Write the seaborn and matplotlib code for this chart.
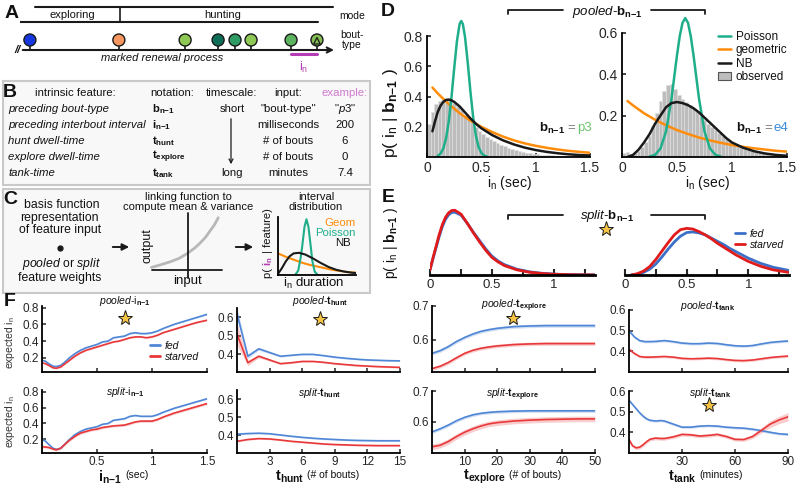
import numpy as np
import pandas as pd
import matplotlib
matplotlib.use("Agg")
import matplotlib.pyplot as plt
import seaborn as sns
from matplotlib.lines import Line2D
from matplotlib.patches import Patch, Rectangle

# ====================== DATA ======================
# Panel A: schematic bout timeline (arbitrary time units)
bout_times = [0.31, 3.09, 5.16, 6.19, 6.72, 7.22, 8.47, 9.28]
bout_colors = ["#1636e0", "#f7965f", "#8ec955", "#0d6e58", "#2f9b65", "#8ec955", "#5db460", "#84bd54"]
mode_names = ["exploring", "hunting"]
mode_switch = 3.125

# Panel B table
b_headers = ["intrinsic feature:", "notation:", "timescale:", "input:", "example:"]
b_features = ["preceding bout-type", "preceding interbout interval", "hunt dwell-time",
              "explore dwell-time", "tank-time"]
b_notation = [r"$\mathbf{b}_{\mathbf{n{-}1}}$", r"$\mathbf{i}_{\mathbf{n{-}1}}$",
              r"$\mathbf{t}_{\mathbf{hunt}}$", r"$\mathbf{t}_{\mathbf{explore}}$",
              r"$\mathbf{t}_{\mathbf{tank}}$"]
b_inputs = ['"bout-type"', "milliseconds", "# of bouts", "# of bouts", "minutes"]
b_examples = [r'"$\mathit{p3}$"', "200", "6", "0", "7.4"]

# Panel C schematic curves
link_x = [0.02, 0.15, 0.27, 0.39, 0.507, 0.6, 0.67, 0.74, 0.8, 0.86, 0.91]
link_y = [0.18, 0.22, 0.26, 0.31, 0.386, 0.46, 0.53, 0.61, 0.70, 0.79, 0.89]
c_pois_x = [0.22, 0.26, 0.29, 0.31, 0.34, 0.365, 0.39, 0.42, 0.44, 0.47, 0.51]
c_pois_y = [0.0, 0.08, 0.3, 0.5, 0.85, 0.98, 0.85, 0.5, 0.25, 0.06, 0.0]
c_geo_x = [0.0, 0.1, 0.2, 0.3, 0.4, 0.5, 0.6, 0.7, 0.8, 0.9, 1.0]
c_geo_y = [0.38, 0.32, 0.27, 0.22, 0.18, 0.15, 0.12, 0.09, 0.07, 0.05, 0.04]
c_nb_x = [0.0, 0.05, 0.1, 0.15, 0.2, 0.27, 0.35, 0.45, 0.55, 0.65, 0.75, 0.85, 0.95, 1.0]
c_nb_y = [0.02, 0.12, 0.24, 0.33, 0.38, 0.39, 0.36, 0.29, 0.21, 0.14, 0.09, 0.06, 0.04, 0.035]

# Panel D: observed histograms (45 bins over 0-1.5 s) and model fits
hist_centers = [(k + 0.5) / 30 for k in range(45)]
p3_obs = [0.22, 0.30, 0.35, 0.37, 0.375, 0.375, 0.37, 0.36, 0.34, 0.31, 0.28, 0.255, 0.23, 0.20, 0.175,
          0.155, 0.135, 0.12, 0.105, 0.092, 0.08, 0.07, 0.06, 0.052, 0.045, 0.038, 0.033, 0.028, 0.024,
          0.02, 0.017, 0.015, 0.013, 0.011, 0.01, 0.009, 0.008, 0.007, 0.006, 0.005, 0.005, 0.004,
          0.004, 0.003, 0.003]
e4_obs = [0.02, 0.025, 0.015, 0.02, 0.03, 0.05, 0.07, 0.10, 0.15, 0.21, 0.27, 0.32, 0.345, 0.35, 0.33,
          0.30, 0.28, 0.265, 0.25, 0.235, 0.22, 0.20, 0.18, 0.16, 0.145, 0.13, 0.115, 0.10, 0.085,
          0.075, 0.065, 0.055, 0.048, 0.042, 0.036, 0.031, 0.027, 0.023, 0.02, 0.017, 0.015, 0.013,
          0.011, 0.01, 0.009]
p3_pois_x = [0.10, 0.125, 0.15, 0.175, 0.2, 0.225, 0.25, 0.275, 0.3, 0.315, 0.33, 0.35, 0.375, 0.4,
             0.425, 0.45, 0.475, 0.5, 0.525, 0.55]
p3_pois = [0.008, 0.023, 0.056, 0.122, 0.233, 0.394, 0.585, 0.764, 0.88, 0.9, 0.88, 0.794, 0.624, 0.43,
           0.262, 0.14, 0.066, 0.027, 0.01, 0.003]
p3_geo_x = [0.05, 0.1, 0.2, 0.3, 0.4, 0.5, 0.6, 0.7, 0.8, 0.9, 1.0, 1.1, 1.2, 1.3, 1.4, 1.5]
p3_geo = [0.46, 0.42, 0.35, 0.29, 0.24, 0.20, 0.165, 0.135, 0.11, 0.09, 0.074, 0.061, 0.05, 0.041,
          0.034, 0.028]
p3_nb_x = [0.05, 0.075, 0.1, 0.125, 0.15, 0.175, 0.2, 0.225, 0.25, 0.3, 0.35, 0.4, 0.45, 0.5, 0.6, 0.7,
           0.8, 0.9, 1.0, 1.1, 1.2, 1.3, 1.4, 1.5]
p3_nb = [0.17, 0.24, 0.30, 0.34, 0.365, 0.378, 0.38, 0.375, 0.365, 0.335, 0.295, 0.255, 0.22, 0.19,
         0.145, 0.11, 0.083, 0.062, 0.046, 0.034, 0.025, 0.018, 0.013, 0.01]
e4_pois_x = [0.25, 0.3, 0.35, 0.4, 0.45, 0.5, 0.525, 0.55, 0.575, 0.6, 0.625, 0.65, 0.7, 0.75, 0.8,
             0.85, 0.9]
e4_pois = [0.002, 0.01, 0.041, 0.123, 0.282, 0.491, 0.583, 0.647, 0.67, 0.647, 0.583, 0.491, 0.282,
           0.123, 0.041, 0.01, 0.002]
e4_geo_x = [0.05, 0.1, 0.2, 0.3, 0.4, 0.5, 0.6, 0.7, 0.8, 0.9, 1.0, 1.1, 1.2, 1.3, 1.4, 1.5]
e4_geo = [0.27, 0.249, 0.211, 0.18, 0.153, 0.13, 0.111, 0.094, 0.08, 0.068, 0.058, 0.049, 0.042,
          0.036, 0.03, 0.026]
e4_nb_x = [0.05, 0.1, 0.15, 0.2, 0.25, 0.3, 0.35, 0.4, 0.45, 0.5, 0.55, 0.6, 0.65, 0.7, 0.75, 0.8,
           0.85, 0.9, 0.95, 1.0, 1.1, 1.2, 1.3, 1.4, 1.5]
e4_nb = [0.0, 0.01, 0.035, 0.07, 0.11, 0.16, 0.20, 0.24, 0.26, 0.265, 0.26, 0.25, 0.235, 0.215, 0.19,
         0.165, 0.14, 0.115, 0.09, 0.07, 0.045, 0.028, 0.017, 0.01, 0.006]

# Panel E: split fits (relative density)
e_p3_x = [0, 0.025, 0.05, 0.075, 0.1, 0.125, 0.15, 0.175, 0.2, 0.25, 0.3, 0.35, 0.4, 0.45, 0.5, 0.55,
          0.6, 0.7, 0.8, 0.9, 1.0, 1.1, 1.2, 1.33]
e_p3_fed = [0.08, 0.26, 0.43, 0.60, 0.75, 0.86, 0.93, 0.965, 0.97, 0.925, 0.80, 0.66, 0.53, 0.40,
            0.29, 0.215, 0.16, 0.09, 0.05, 0.027, 0.014, 0.007, 0.004, 0.002]
e_p3_starved = [0.08, 0.27, 0.45, 0.63, 0.78, 0.89, 0.96, 0.995, 1.0, 0.94, 0.80, 0.65, 0.51, 0.38,
                0.27, 0.20, 0.145, 0.08, 0.043, 0.023, 0.012, 0.006, 0.003, 0.001]
e_e4_x = [0.05, 0.1, 0.15, 0.2, 0.25, 0.3, 0.35, 0.4, 0.45, 0.5, 0.55, 0.6, 0.65, 0.7, 0.75, 0.8, 0.85,
          0.9, 0.95, 1.0, 1.1, 1.2, 1.33]
e_e4_fed = [0.0, 0.012, 0.04, 0.09, 0.17, 0.28, 0.40, 0.51, 0.60, 0.655, 0.665, 0.65, 0.62, 0.57, 0.52,
            0.47, 0.41, 0.36, 0.31, 0.26, 0.18, 0.12, 0.07]
e_e4_starved = [0.0, 0.02, 0.06, 0.13, 0.24, 0.37, 0.50, 0.62, 0.70, 0.72, 0.71, 0.67, 0.62, 0.56, 0.49,
                0.43, 0.37, 0.31, 0.26, 0.21, 0.135, 0.08, 0.04]

# Panel F: expected interval vs feature value
i_x = [0.0, 0.03, 0.06, 0.1, 0.13, 0.17, 0.2, 0.25, 0.3, 0.35, 0.4, 0.45, 0.5, 0.55, 0.6, 0.65, 0.7,
       0.75, 0.8, 0.85, 0.9, 0.95, 1.0, 1.05, 1.1, 1.2, 1.3, 1.4, 1.5]
i_pooled_fed = [0.17, 0.16, 0.13, 0.10, 0.095, 0.11, 0.14, 0.20, 0.25, 0.29, 0.32, 0.34, 0.36, 0.39,
                0.40, 0.44, 0.45, 0.46, 0.49, 0.50, 0.49, 0.49, 0.50, 0.52, 0.55, 0.60, 0.64, 0.68, 0.72]
i_pooled_starved = [0.14, 0.13, 0.11, 0.08, 0.075, 0.09, 0.12, 0.17, 0.22, 0.26, 0.29, 0.31, 0.33,
                    0.35, 0.37, 0.39, 0.40, 0.42, 0.44, 0.45, 0.45, 0.44, 0.45, 0.47, 0.50, 0.54, 0.58,
                    0.62, 0.65]
i_split_fed = [0.20, 0.18, 0.14, 0.09, 0.075, 0.09, 0.13, 0.20, 0.26, 0.30, 0.33, 0.345, 0.36, 0.39,
               0.40, 0.44, 0.45, 0.46, 0.49, 0.50, 0.49, 0.49, 0.49, 0.51, 0.54, 0.59, 0.63, 0.67, 0.71]
i_split_starved = [0.11, 0.105, 0.10, 0.08, 0.07, 0.09, 0.13, 0.19, 0.24, 0.28, 0.30, 0.32, 0.33, 0.35,
                   0.36, 0.37, 0.375, 0.38, 0.40, 0.42, 0.43, 0.43, 0.43, 0.45, 0.48, 0.53, 0.57, 0.61,
                   0.65]

hunt_x = [0, 1, 2, 3, 4, 5, 6, 7, 8, 9, 10, 11, 12, 13, 14, 15]
hunt_pooled_fed = [0.62, 0.39, 0.43, 0.41, 0.39, 0.395, 0.40, 0.40, 0.393, 0.385, 0.379, 0.374, 0.37,
                   0.368, 0.366, 0.365]
hunt_pooled_fed_hw = [0.035, 0.012, 0.008, 0.006, 0.005, 0.004, 0.004, 0.004, 0.004, 0.004, 0.004,
                      0.004, 0.004, 0.004, 0.004, 0.004]
hunt_pooled_starved = [0.51, 0.355, 0.39, 0.37, 0.35, 0.355, 0.362, 0.362, 0.357, 0.35, 0.345, 0.34,
                       0.337, 0.334, 0.332, 0.33]
hunt_pooled_starved_hw = [0.06, 0.015, 0.008, 0.006, 0.005, 0.004, 0.004, 0.004, 0.004, 0.004, 0.004,
                          0.004, 0.004, 0.004, 0.004, 0.004]
hunt_split_fed = [0.405, 0.408, 0.41, 0.407, 0.40, 0.393, 0.387, 0.382, 0.378, 0.375, 0.372, 0.37,
                  0.369, 0.368, 0.368, 0.368]
hunt_split_starved = [0.365, 0.375, 0.38, 0.378, 0.372, 0.365, 0.36, 0.355, 0.35, 0.347, 0.345, 0.343,
                      0.342, 0.341, 0.341, 0.341]

explore_x = [0, 2.5, 5, 7.5, 10, 12.5, 15, 17.5, 20, 25, 30, 35, 40, 45, 50]
explore_pooled_fed = [0.56, 0.568, 0.58, 0.595, 0.607, 0.617, 0.625, 0.63, 0.634, 0.639, 0.641, 0.642,
                      0.642, 0.642, 0.642]
explore_pooled_starved = [0.515, 0.522, 0.533, 0.547, 0.56, 0.569, 0.575, 0.579, 0.582, 0.586, 0.588,
                          0.589, 0.589, 0.589, 0.589]
explore_split_fed = [0.568, 0.578, 0.59, 0.604, 0.615, 0.623, 0.628, 0.631, 0.633, 0.635, 0.636, 0.636,
                     0.636, 0.636, 0.636]
explore_split_starved = [0.52, 0.525, 0.537, 0.553, 0.567, 0.578, 0.587, 0.594, 0.598, 0.603, 0.606,
                         0.608, 0.609, 0.61, 0.61]

tank_x = [0, 3, 6, 9, 12, 15, 20, 25, 30, 35, 40, 45, 50, 55, 60, 65, 70, 75, 80, 85, 90]
tank_pooled_fed = [0.50, 0.47, 0.452, 0.447, 0.447, 0.448, 0.452, 0.447, 0.44, 0.437, 0.437, 0.44,
                   0.438, 0.432, 0.427, 0.425, 0.428, 0.436, 0.443, 0.447, 0.45]
tank_pooled_starved = [0.41, 0.39, 0.375, 0.372, 0.372, 0.373, 0.375, 0.372, 0.366, 0.364, 0.365,
                       0.367, 0.365, 0.36, 0.356, 0.355, 0.358, 0.364, 0.37, 0.374, 0.377]
tank_split_x = [0, 2, 4, 6, 8, 10, 12, 15, 18, 20, 25, 30, 35, 40, 45, 50, 55, 60, 65, 70, 75, 80, 85, 90]
tank_split_fed = [0.555, 0.535, 0.515, 0.495, 0.478, 0.465, 0.458, 0.455, 0.457, 0.455, 0.44, 0.425,
                  0.425, 0.43, 0.432, 0.43, 0.425, 0.422, 0.42, 0.415, 0.408, 0.40, 0.393, 0.39]
tank_split_starved = [0.365, 0.335, 0.325, 0.328, 0.34, 0.355, 0.367, 0.372, 0.37, 0.37, 0.378, 0.39,
                      0.388, 0.382, 0.385, 0.39, 0.38, 0.366, 0.365, 0.38, 0.41, 0.44, 0.46, 0.475]
tank_split_starved_hw = [0.008] * 19 + [0.01, 0.013, 0.016, 0.018, 0.02]

# ====================== STYLE ======================
sns.set_theme(style="ticks")
plt.rcParams["font.family"] = ["Liberation Sans", "DejaVu Sans"]
plt.rcParams["mathtext.fontset"] = "custom"
plt.rcParams["mathtext.rm"] = "Liberation Sans"
plt.rcParams["mathtext.it"] = "Liberation Sans:italic"
plt.rcParams["mathtext.bf"] = "Liberation Sans:bold"
plt.rcParams["mathtext.sf"] = "Liberation Sans"
plt.rcParams["axes.linewidth"] = 1.3
plt.rcParams["axes.edgecolor"] = "black"
plt.rcParams["text.color"] = "#111111"

POIS = "#1fae8a"
GEO = "#ff8c0a"
FED = "#4f86d6"
STARV = "#e8383a"
FED_E = "#3b70c8"
STARV_E = "#e01b1b"
MAG = "#b43cb4"
GOLD = "#f6c445"

W, H = 800, 491
fig = plt.figure(figsize=(8, 4.91), dpi=100)


def rect(l, t, r, b):
    return [l / W, 1 - b / H, (r - l) / W, (b - t) / H]


ov = fig.add_axes([0, 0, 1, 1], zorder=-1)
ov.set_xlim(0, W)
ov.set_ylim(H, 0)
ov.axis("off")


def T(x, y, s, **kw):
    kw.setdefault("ha", "center")
    kw.setdefault("va", "center")
    return ov.text(x, y, s, **kw)


def star(x, y):
    ov.plot([x], [y], marker="*", ms=11, mfc=GOLD, mec="k", mew=0.7, ls="none")


# ====================== PANEL A ======================
T(12, 13, "A", fontsize=14, fontweight="bold")
axA = fig.add_axes(rect(20, 0, 340, 80))
axA.set_xlim(0, 10)
axA.set_ylim(80, 0)
axA.axis("off")
axA.plot([0.47, 9.78], [7, 7], color="k", lw=1.5)
axA.plot([0, 9.31], [22, 22], color="k", lw=1.5)
axA.plot([mode_switch, mode_switch], [7, 22], color="k", lw=1.2)
axA.text(1.63, 15, mode_names[0], ha="center", va="center", fontsize=8)
axA.text(6.34, 15, mode_names[1], ha="center", va="center", fontsize=8)
axA.annotate("", xy=(9.9, 50), xytext=(0.0, 50),
             arrowprops=dict(arrowstyle="->", lw=1.5, color="k", mutation_scale=9))
axA.vlines(bout_times, 45, 50, color="k", lw=1.2)
axA.scatter(bout_times, [40] * len(bout_times), s=75, c=bout_colors, edgecolors="k",
            linewidths=1.0, zorder=3)
axA.scatter([bout_times[-1]], [40.8], marker="^", s=22, facecolors="none", edgecolors="k",
            linewidths=0.9, zorder=4)
axA.plot([bout_times[-2], bout_times[-1]], [53.5, 53.5], color=MAG, lw=2.2)
axA.text((bout_times[-2] + bout_times[-1]) / 2, 67, r"i$_\mathrm{n}$", color=MAG, ha="center",
         va="center", fontsize=9)
T(18, 50, "//", fontsize=8, fontweight="bold", style="italic")
T(162, 58, "marked renewal process", fontsize=8, style="italic")
T(352, 16, "mode", fontsize=7.5)
T(352, 35, "bout-", fontsize=7.5)
T(352, 45, "type", fontsize=7.5)

# ====================== PANEL B ======================
ov.add_patch(Rectangle((3, 81), 367, 104, facecolor="#f8f8f8", edgecolor="#c9c9c9", lw=1.5))
T(10, 92, "B", fontsize=14, fontweight="bold")
fsB = 8.2
T(35, 93, b_headers[0], ha="left", fontsize=fsB)
T(172, 93, b_headers[1], fontsize=fsB)
T(232, 93, b_headers[2], fontsize=fsB)
T(288, 93, b_headers[3], fontsize=fsB)
T(345, 93, b_headers[4], fontsize=fsB, color="#d27ad2")
rows_y = [109, 125, 141, 157, 173]
for k, y in enumerate(rows_y):
    T(8, y, b_features[k], ha="left", fontsize=fsB, style="italic")
    T(152, y, b_notation[k], ha="left", fontsize=fsB)
    T(288, y, b_inputs[k], fontsize=fsB)
    T(345, y, b_examples[k], fontsize=fsB)
T(232, rows_y[0], "short", fontsize=fsB)
T(232, rows_y[-1], "long", fontsize=fsB)
ov.annotate("", xy=(231, 167), xytext=(231, 116),
            arrowprops=dict(arrowstyle="->", lw=0.9, color="k", mutation_scale=7))

# ====================== PANEL C ======================
ov.add_patch(Rectangle((3, 189), 367, 104, facecolor="#f8f8f8", edgecolor="#c9c9c9", lw=1.5))
T(10, 200, "C", fontsize=14, fontweight="bold")
fsC = 8
fsCL = 8.8
T(62, 205, "basis function", fontsize=fsCL)
T(59, 218, "representation", fontsize=fsCL)
T(60, 230, "of feature input", fontsize=fsCL)
ov.plot([60], [248], marker="o", ms=3.5, color="k")
T(62, 264, r"$\mathit{pooled}$ or $\mathit{split}$", fontsize=fsCL)
T(60, 277.5, "feature weights", fontsize=fsCL)
ov.annotate("", xy=(132, 247), xytext=(110, 247),
            arrowprops=dict(arrowstyle="-|>", lw=1.4, color="k", mutation_scale=10))
ov.annotate("", xy=(256, 247), xytext=(233, 247),
            arrowprops=dict(arrowstyle="-|>", lw=1.4, color="k", mutation_scale=10))
T(188, 197, "linking function to", fontsize=fsC)
T(188, 207, "compute mean & variance", fontsize=fsC)
T(316, 197, "interval", fontsize=fsC)
T(316, 207, "distribution", fontsize=fsC)
T(147, 246, "output", fontsize=9, rotation=90)
T(187, 281, "input", fontsize=9.5)

axL = fig.add_axes(rect(150, 210, 225, 280))
axL.patch.set_alpha(0)
sns.lineplot(x=link_x, y=link_y, ax=axL, color="#b8b8b8", lw=2)
axL.set_xlim(0, 1)
axL.set_ylim(0, 1)
axL.axis("off")
axL.axhline(0.143, 0.027, 0.96, color="k", lw=1.3)
axL.axvline(0.507, 0.03, 0.96, color="k", lw=1.3)

axC = fig.add_axes(rect(278, 217, 356, 275))
axC.patch.set_alpha(0)
sns.lineplot(x=c_geo_x, y=c_geo_y, ax=axC, color=GEO, lw=1.5)
sns.lineplot(x=c_pois_x, y=c_pois_y, ax=axC, color=POIS, lw=1.5)
sns.lineplot(x=c_nb_x, y=c_nb_y, ax=axC, color="k", lw=1.5)
axC.set_xlim(0, 1)
axC.set_ylim(0, 1.02)
axC.set_xticks([])
axC.set_yticks([])
for s in ["top", "right"]:
    axC.spines[s].set_visible(False)
T(356, 222.5, "Geom", ha="right", fontsize=8.2, color=GEO)
T(356, 232.5, "Poisson", ha="right", fontsize=8.2, color=POIS)
T(351, 242.5, "NB", ha="right", fontsize=8.2, color="#111111")
ov.text(268, 278, "p( ", rotation=90, ha="center", va="bottom", fontsize=fsC)
ov.text(268, 266, r"$\mathbf{i}_\mathbf{n}$", rotation=90, ha="center", va="bottom", fontsize=fsC,
        color=MAG)
ov.text(268, 256, " | feature)", rotation=90, ha="center", va="bottom", fontsize=fsC)
T(314, 283, r"i$_\mathrm{n}$ duration", fontsize=9.5)

# ====================== PANEL D ======================
T(388, 11, "D", fontsize=14, fontweight="bold")
T(391, 113, r"p( i$_\mathrm{n}$ | $\mathbf{b}_{\mathbf{n{-}1}}$ )", fontsize=12.5, rotation=90)
ov.plot([508, 508, 563], [14, 9.5, 9.5], color="k", lw=1.3)
ov.plot([651, 705, 705], [9.5, 9.5, 14], color="k", lw=1.3)
T(607, 12, r"$\mathit{pooled}$-$\mathbf{b}_{\mathbf{n{-}1}}$", fontsize=9.5)


def style_D(ax, ymax, yt):
    ax.set_xlim(0, 1.5)
    ax.set_ylim(0, ymax)
    ax.set_xticks([0, 0.5, 1, 1.5])
    ax.set_xticklabels(["0", "0.5", "1", "1.5"])
    ax.set_yticks(yt)
    ax.set_yticklabels([f"{v:g}" for v in yt])
    ax.spines["top"].set_visible(False)
    ax.spines["right"].set_visible(False)
    ax.spines["left"].set_bounds(0, yt[-1])
    ax.tick_params(direction="in", length=3, width=1.2, labelsize=10, pad=3)
    ax.set_xlabel("")
    ax.set_ylabel("")
    ax.patch.set_alpha(0)


def obs_hist(ax, heights):
    df = pd.DataFrame({"t": hist_centers, "h": heights})
    sns.histplot(data=df, x="t", weights="h", bins=45, binrange=(0, 1.5), ax=ax, color="#bdbdbd",
                 edgecolor="#e2e2e2", linewidth=0.4, alpha=1)


axDL = fig.add_axes(rect(427, 18, 590, 157))
obs_hist(axDL, p3_obs)
sns.lineplot(x=p3_geo_x, y=p3_geo, ax=axDL, color=GEO, lw=1.8)
sns.lineplot(x=p3_pois_x, y=p3_pois, ax=axDL, color=POIS, lw=1.8)
sns.lineplot(x=p3_nb_x, y=p3_nb, ax=axDL, color="k", lw=1.8)
style_D(axDL, 0.92, [0.2, 0.4, 0.6, 0.8])

axDR = fig.add_axes(rect(622, 16, 787, 157))
obs_hist(axDR, e4_obs)
sns.lineplot(x=e4_geo_x, y=e4_geo, ax=axDR, color=GEO, lw=1.8)
sns.lineplot(x=e4_pois_x, y=e4_pois, ax=axDR, color=POIS, lw=1.8)
sns.lineplot(x=e4_nb_x, y=e4_nb, ax=axDR, color="k", lw=1.8)
style_D(axDR, 0.68, [0.2, 0.4, 0.6])

T(509, 183, r"i$_\mathrm{n}$ (sec)", fontsize=10)
T(707, 183, r"i$_\mathrm{n}$ (sec)", fontsize=10)

T(565, 128, r"$\mathbf{b}_{\mathbf{n{-}1}}$", ha="right", fontsize=9.5)
T(571, 128, "=", fontsize=9.5, color="#777777")
T(577, 128, "p3", ha="left", fontsize=9.5, color="#6cc46c")
T(762, 128, r"$\mathbf{b}_{\mathbf{n{-}1}}$", ha="right", fontsize=9.5)
T(768, 128, "=", fontsize=9.5, color="#777777")
T(773, 128, "e4", ha="left", fontsize=9.5, color="#3a8ad8")

handles = [Line2D([], [], color=POIS, lw=1.8), Line2D([], [], color=GEO, lw=1.8),
           Line2D([], [], color="k", lw=1.8),
           Patch(facecolor="#bdbdbd", edgecolor="#555555", lw=0.8)]
axDR.legend(handles, ["Poisson", "geometric", "NB", "observed"], loc="upper left",
            bbox_to_anchor=(718 / W, 1 - 31 / H), bbox_transform=fig.transFigure, frameon=False,
            fontsize=8.5, handlelength=1.1, handleheight=0.6, handletextpad=0.4, labelspacing=0.12,
            borderpad=0, borderaxespad=0)

# ====================== PANEL E ======================
T(388, 197, "E", fontsize=14, fontweight="bold")
T(391, 243, r"p( i$_\mathrm{n}$ | $\mathbf{b}_{\mathbf{n{-}1}}$ )", fontsize=10, rotation=90)
ov.plot([508, 508, 563], [219, 214.5, 214.5], color="k", lw=1.3)
ov.plot([651, 705, 705], [214.5, 214.5, 219], color="k", lw=1.3)
T(607, 216, r"$\mathit{split}$-$\mathbf{b}_{\mathbf{n{-}1}}$", fontsize=9.5)
star(606, 229)


def style_E(ax):
    ax.set_xlim(0, 1.33)
    ax.set_ylim(0, 1.05)
    ax.set_xticks([0, 0.5, 1])
    ax.set_xticklabels(["0", "0.5", "1"])
    ax.set_xticks([0.25, 0.75, 1.25], minor=True)
    ax.set_yticks([])
    for s in ["top", "right", "left"]:
        ax.spines[s].set_visible(False)
    ax.spines["bottom"].set_linewidth(2)
    ax.tick_params(axis="x", which="both", direction="in", length=4, width=1.5, labelsize=9.5, pad=3)
    ax.set_xlabel("")
    ax.set_ylabel("")
    ax.patch.set_alpha(0)


axEL = fig.add_axes(rect(430, 207, 595, 275))
sns.lineplot(x=e_p3_x, y=e_p3_fed, ax=axEL, color=FED_E, lw=2)
sns.lineplot(x=e_p3_x, y=e_p3_starved, ax=axEL, color=STARV_E, lw=2)
style_E(axEL)
axER = fig.add_axes(rect(625, 207, 789, 275))
sns.lineplot(x=e_e4_x, y=e_e4_fed, ax=axER, color=FED_E, lw=2)
sns.lineplot(x=e_e4_x, y=e_e4_starved, ax=axER, color=STARV_E, lw=2)
style_E(axER)
axER.legend([Line2D([], [], color=FED_E, lw=2), Line2D([], [], color=STARV_E, lw=2)],
            ["fed", "starved"], loc="upper left", bbox_to_anchor=(735 / W, 1 - 229 / H),
            bbox_transform=fig.transFigure, frameon=False, prop={"style": "italic", "size": 7.5},
            handlelength=1.0, handletextpad=0.4, labelspacing=0.1, borderpad=0, borderaxespad=0)

# ====================== PANEL F ======================
T(10, 302, "F", fontsize=14, fontweight="bold")


def band_frame(x, y, hw):
    x = np.asarray(x, float)
    y = np.asarray(y, float)
    hw = np.broadcast_to(np.asarray(hw, float), y.shape)
    return pd.DataFrame({"x": np.concatenate([x, x, x]),
                         "v": np.concatenate([y - hw, y, y + hw])})


def band_line(ax, x, y, hw, color):
    sns.lineplot(data=band_frame(x, y, hw), x="x", y="v", estimator="median",
                 errorbar=("pi", 100), color=color, lw=1.2, ax=ax,
                 err_kws=dict(alpha=0.25, linewidth=0))


def style_F(ax, xlim, xt, xtl, ylim, yt, show_x):
    ax.set_xlim(*xlim)
    ax.set_ylim(*ylim)
    ax.set_xticks(xt)
    ax.set_xticklabels(xtl if show_x else [])
    ax.set_yticks(yt)
    ax.set_yticklabels([f"{v:g}" for v in yt])
    ax.spines["top"].set_visible(False)
    ax.spines["right"].set_visible(False)
    ax.tick_params(direction="in", length=3, width=1.1, labelsize=8.5, pad=2.5)
    ax.set_xlabel("")
    ax.set_ylabel("")
    ax.patch.set_alpha(0)


cols = [(42, 207), (237, 400), (432, 595), (629, 788)]
rows = [(306, 372), (390, 453)]
col_tops = [[306, 390], [308, 390], [306, 391], [310, 391]]

# column 1: i_{n-1}
for r, (fed, starv, shw) in enumerate([(i_pooled_fed, i_pooled_starved, 0.008),
                                       (i_split_fed, i_split_starved, 0.014)]):
    ax = fig.add_axes(rect(cols[0][0], col_tops[0][r], cols[0][1], rows[r][1]))
    band_line(ax, i_x, fed, 0.008, FED)
    band_line(ax, i_x, starv, shw, STARV)
    style_F(ax, (0, 1.5), [0.5, 1, 1.5], ["0.5", "1", "1.5"], (0.03, 0.82),
            [0.2, 0.4, 0.6, 0.8], r == 1)
    if r == 0:
        ax.legend([Line2D([], [], color=FED, lw=2), Line2D([], [], color=STARV, lw=2)],
                  ["fed", "starved"], loc="upper left", bbox_to_anchor=(150 / W, 1 - 341 / H),
                  bbox_transform=fig.transFigure, frameon=False,
                  prop={"style": "italic", "size": 7.5}, handlelength=1.0, handletextpad=0.4,
                  labelspacing=0.1, borderpad=0, borderaxespad=0)

# column 2: t_hunt
for r, (fed, fhw, starv, shw, yl) in enumerate([
        (hunt_pooled_fed, hunt_pooled_fed_hw, hunt_pooled_starved, hunt_pooled_starved_hw,
         (0.305, 0.65)),
        (hunt_split_fed, 0.004, hunt_split_starved, 0.004, (0.30, 0.65))]):
    ax = fig.add_axes(rect(cols[1][0], col_tops[1][r], cols[1][1], rows[r][1]))
    band_line(ax, hunt_x, fed, fhw, FED)
    band_line(ax, hunt_x, starv, shw, STARV)
    style_F(ax, (0, 15), [3, 6, 9, 12, 15], ["3", "6", "9", "12", "15"], yl, [0.4, 0.5, 0.6],
            r == 1)

# column 3: t_explore
for r, (fed, starv, shw, yl) in enumerate([
        (explore_pooled_fed, explore_pooled_starved, 0.005, (0.505, 0.70)),
        (explore_split_fed, explore_split_starved, 0.009, (0.50, 0.70))]):
    ax = fig.add_axes(rect(cols[2][0], col_tops[2][r], cols[2][1], rows[r][1]))
    band_line(ax, explore_x, fed, 0.005, FED)
    band_line(ax, explore_x, starv, shw, STARV)
    style_F(ax, (0, 50), [10, 20, 30, 40, 50], ["10", "20", "30", "40", "50"], yl, [0.6, 0.7],
            r == 1)

# column 4: t_tank
ax = fig.add_axes(rect(cols[3][0], col_tops[3][0], cols[3][1], rows[0][1]))
band_line(ax, tank_x, tank_pooled_fed, 0.006, FED)
band_line(ax, tank_x, tank_pooled_starved, 0.006, STARV)
style_F(ax, (0, 90), [30, 60, 90], ["30", "60", "90"], (0.30, 0.60), [0.4, 0.5, 0.6], False)
ax = fig.add_axes(rect(cols[3][0], col_tops[3][1], cols[3][1], rows[1][1]))
band_line(ax, tank_split_x, tank_split_fed, 0.006, FED)
band_line(ax, tank_split_x, tank_split_starved, tank_split_starved_hw, STARV)
style_F(ax, (0, 90), [30, 60, 90], ["30", "60", "90"], (0.30, 0.60), [0.4, 0.5, 0.6], True)

# F titles, stars, labels
fsT = 7.5
T(125, 301, r"$\mathit{pooled}$-i$_{\mathbf{n{-}1}}$", fontsize=fsT)
T(320, 301, r"$\mathit{pooled}$-$\mathbf{t}_{\mathbf{hunt}}$", fontsize=fsT)
T(514, 306, r"$\mathit{pooled}$-$\mathbf{t}_{\mathbf{explore}}$", fontsize=fsT)
T(708, 306, r"$\mathit{pooled}$-$\mathbf{t}_{\mathbf{tank}}$", fontsize=fsT)
T(125, 392, r"$\mathit{split}$-i$_{\mathbf{n{-}1}}$", fontsize=fsT)
T(320, 393, r"$\mathit{split}$-$\mathbf{t}_{\mathbf{hunt}}$", fontsize=fsT)
T(513, 395, r"$\mathit{split}$-$\mathbf{t}_{\mathbf{explore}}$", fontsize=fsT)
T(710, 393, r"$\mathit{split}$-$\mathbf{t}_{\mathbf{tank}}$", fontsize=fsT)
star(125, 318)
star(320, 319)
star(513, 318)
star(709, 405)

T(10, 343, r"expected i$_\mathrm{n}$", fontsize=7.5, rotation=90, color="#333333")
T(10, 422, r"expected i$_\mathrm{n}$", fontsize=7.5, rotation=90, color="#333333")

fsX = 10.5
fsS = 7.5
T(122, 477, r"$\mathbf{i}_{\mathbf{n{-}1}}$", ha="right", fontsize=fsX)
T(125, 475, "(sec)", ha="left", fontsize=fsS)
T(304, 477, r"$\mathbf{t}_{\mathbf{hunt}}$", ha="right", fontsize=fsX)
T(307, 475, "(# of bouts)", ha="left", fontsize=fsS)
T(506, 477, r"$\mathbf{t}_{\mathbf{explore}}$", ha="right", fontsize=fsX)
T(509, 475, "(# of bouts)", ha="left", fontsize=fsS)
T(696, 477, r"$\mathbf{t}_{\mathbf{tank}}$", ha="right", fontsize=fsX)
T(699, 475, "(minutes)", ha="left", fontsize=fsS)

fig.savefig("out.png", dpi=100)
